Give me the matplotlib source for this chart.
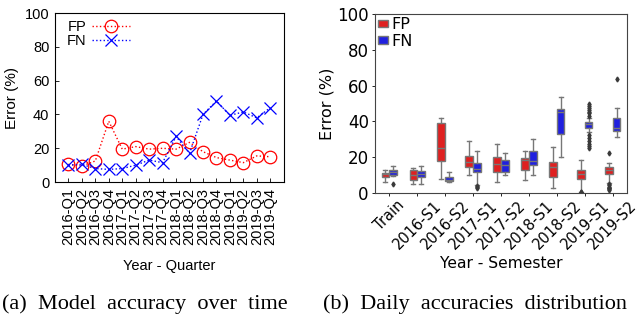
import matplotlib
matplotlib.use("Agg")
import matplotlib.pyplot as plt
from matplotlib.patches import Patch

# ---- data: left panel (quarterly error) ----
quarters = ["2016-Q1", "2016-Q2", "2016-Q3", "2016-Q4",
            "2017-Q1", "2017-Q2", "2017-Q3", "2017-Q4",
            "2018-Q1", "2018-Q2", "2018-Q3", "2018-Q4",
            "2019-Q1", "2019-Q2", "2019-Q3", "2019-Q4"]
fp_quarter = [10.5, 9.5, 12.5, 36, 19.5, 21, 19.5, 20, 19.5, 23.5, 18, 14.5, 13, 11.5, 15.5, 15]
fn_quarter = [10, 10.5, 8, 7.5, 8, 10, 13, 11.5, 27, 17, 40, 48, 39.5, 41.5, 38, 44]

# ---- data: right panel (daily distributions per semester) ----
semesters = ["Train", "2016-S1", "2016-S2", "2017-S1", "2017-S2",
             "2018-S1", "2018-S2", "2019-S1", "2019-S2"]
# whislo, q1, med, q3, whishi
fp_low = [5.9, 5.0, 8.0, 10.2, 6.3, 7.0, 2.8, 0.4, 5.6]
fp_q1 = [8.7, 7.4, 18.0, 14.5, 11.7, 12.6, 8.9, 8.0, 10.8]
fp_med = [10.5, 10.0, 25.0, 17.4, 16.3, 18.6, 14.3, 10.8, 12.6]
fp_q3 = [11.3, 13.0, 39.0, 20.6, 19.9, 19.5, 17.1, 12.8, 14.3]
fp_high = [12.6, 14.1, 42.0, 29.0, 27.3, 23.4, 25.6, 18.7, 17.0]
fp_out = [[], [], [], [], [], [], [], [0.0, 0.3, 0.6],
          [22.3, 5.0, 4.3, 3.6, 3.0, 2.5, 2.0, 1.5]]

fn_low = [9.3, 5.0, 6.0, 4.5, 9.8, 9.8, 20.0, 34.3, 31.2]
fn_q1 = [9.8, 8.9, 6.5, 11.7, 11.7, 15.8, 32.7, 36.5, 34.7]
fn_med = [11.5, 10.5, 7.5, 13.4, 15.4, 17.6, 45.0, 38.4, 36.4]
fn_q3 = [12.6, 12.0, 8.9, 16.7, 18.6, 23.6, 46.9, 39.5, 42.1]
fn_high = [14.8, 14.8, 11.7, 23.6, 22.6, 30.0, 53.8, 42.0, 47.3]
fn_out = [[5.2], [], [], [3.8, 3.2, 2.8], [], [], [],
          [43.0, 44.5, 45.5, 46.5, 47.5, 48.5, 49.5, 32.5, 30.5, 29.0, 27.5, 26.5, 25.4],
          [63.5]]

red = "#df2020"
blue = "#2020df"

fig = plt.figure(figsize=(6.39, 3.2), dpi=100)

# ---------------- left panel ----------------
sans = "Liberation Sans"
ax1 = fig.add_axes([0.086, 0.431, 0.358, 0.528])
x = list(range(len(quarters)))
ax1.plot(x, fp_quarter, color="red", linestyle=":", linewidth=1.0, marker="o",
         markersize=9, markerfacecolor="none", markeredgecolor="red",
         markeredgewidth=0.9, label="FP")
ax1.plot(x, fn_quarter, color="blue", linestyle=":", linewidth=1.0, marker="x",
         markersize=9, markeredgewidth=0.9, label="FN")
ax1.set_xlim(-1, 16)
ax1.set_ylim(0, 100)
ax1.set_yticks([0, 20, 40, 60, 80, 100])
ax1.set_xticks(x)
ax1.set_xticklabels(quarters, rotation=90, fontsize=10.5, family=sans)
for lab in ax1.get_yticklabels():
    lab.set_family(sans)
    lab.set_fontsize(10.5)
ax1.tick_params(direction="in", length=3, width=0.6, top=False, right=False, pad=4)
ax1.set_ylabel("Error (%)", fontsize=11, family=sans, labelpad=4)
ax1.set_xlabel("Year - Quarter", fontsize=10.5, family=sans, labelpad=10)
for s in ax1.spines.values():
    s.set_linewidth(0.8)
ax1.legend(loc="upper left", frameon=False, markerfirst=False,
           prop={"family": sans, "size": 10.5},
           handlelength=2.6, handletextpad=0.4, labelspacing=0.0,
           borderaxespad=0.1, bbox_to_anchor=(0.02, 1.0))

# ---------------- right panel ----------------
ax2 = fig.add_axes([0.587, 0.397, 0.394, 0.559])
edge = "#777777"
box_kw = dict(patch_artist=True, showfliers=True, widths=0.27,
              medianprops=dict(color=edge, linewidth=1.0),
              whiskerprops=dict(color=edge, linewidth=1.0),
              capprops=dict(color=edge, linewidth=1.0),
              boxprops=dict(edgecolor=edge, linewidth=1.0),
              flierprops=dict(marker="d", markersize=2.5, markerfacecolor="#3a3a3a",
                              markeredgecolor="#3a3a3a"))

def make_stats(low, q1, med, q3, high, out):
    return [dict(whislo=a, q1=b, med=c, q3=d, whishi=e, fliers=f)
            for a, b, c, d, e, f in zip(low, q1, med, q3, high, out)]

pos = list(range(len(semesters)))
b1 = ax2.bxp(make_stats(fp_low, fp_q1, fp_med, fp_q3, fp_high, fp_out),
             positions=[p - 0.135 for p in pos], **box_kw)
b2 = ax2.bxp(make_stats(fn_low, fn_q1, fn_med, fn_q3, fn_high, fn_out),
             positions=[p + 0.135 for p in pos], **box_kw)
for patch in b1["boxes"]:
    patch.set_facecolor(red)
for patch in b2["boxes"]:
    patch.set_facecolor(blue)

ax2.set_xlim(-0.5, 8.5)
ax2.set_ylim(0, 100)
ax2.set_yticks([0, 20, 40, 60, 80, 100])
ax2.set_xticks(pos)
ax2.set_xticklabels(semesters, rotation=45, ha="center", fontsize=10.5)
ax2.tick_params(axis="y", labelsize=12, length=2.5, width=0.6, pad=2)
ax2.tick_params(axis="x", length=2.5, width=0.6, pad=1)
ax2.set_ylabel("Error (%)", fontsize=11.5, labelpad=2)
ax2.set_xlabel("Year - Semester", fontsize=11.2, labelpad=3)
for s in ax2.spines.values():
    s.set_linewidth(0.8)
    s.set_color("#444444")
ax2.legend(handles=[Patch(facecolor=red, edgecolor=edge), Patch(facecolor=blue, edgecolor=edge)],
           labels=["FP", "FN"], loc="upper left", frameon=False, fontsize=11.5,
           handlelength=0.6, handleheight=0.35, handletextpad=0.2, labelspacing=0.1,
           borderaxespad=0.1, borderpad=0.1)

# ---------------- captions ----------------
fig.text(0.003, 0.033, "(a)  Model  accuracy  over  time", fontsize=16,
         family="Liberation Serif", ha="left", va="baseline")
fig.text(0.505, 0.033, "(b)  Daily  accuracies  distribution", fontsize=16,
         family="Liberation Serif", ha="left", va="baseline")

fig.savefig("out.png", dpi=100)
